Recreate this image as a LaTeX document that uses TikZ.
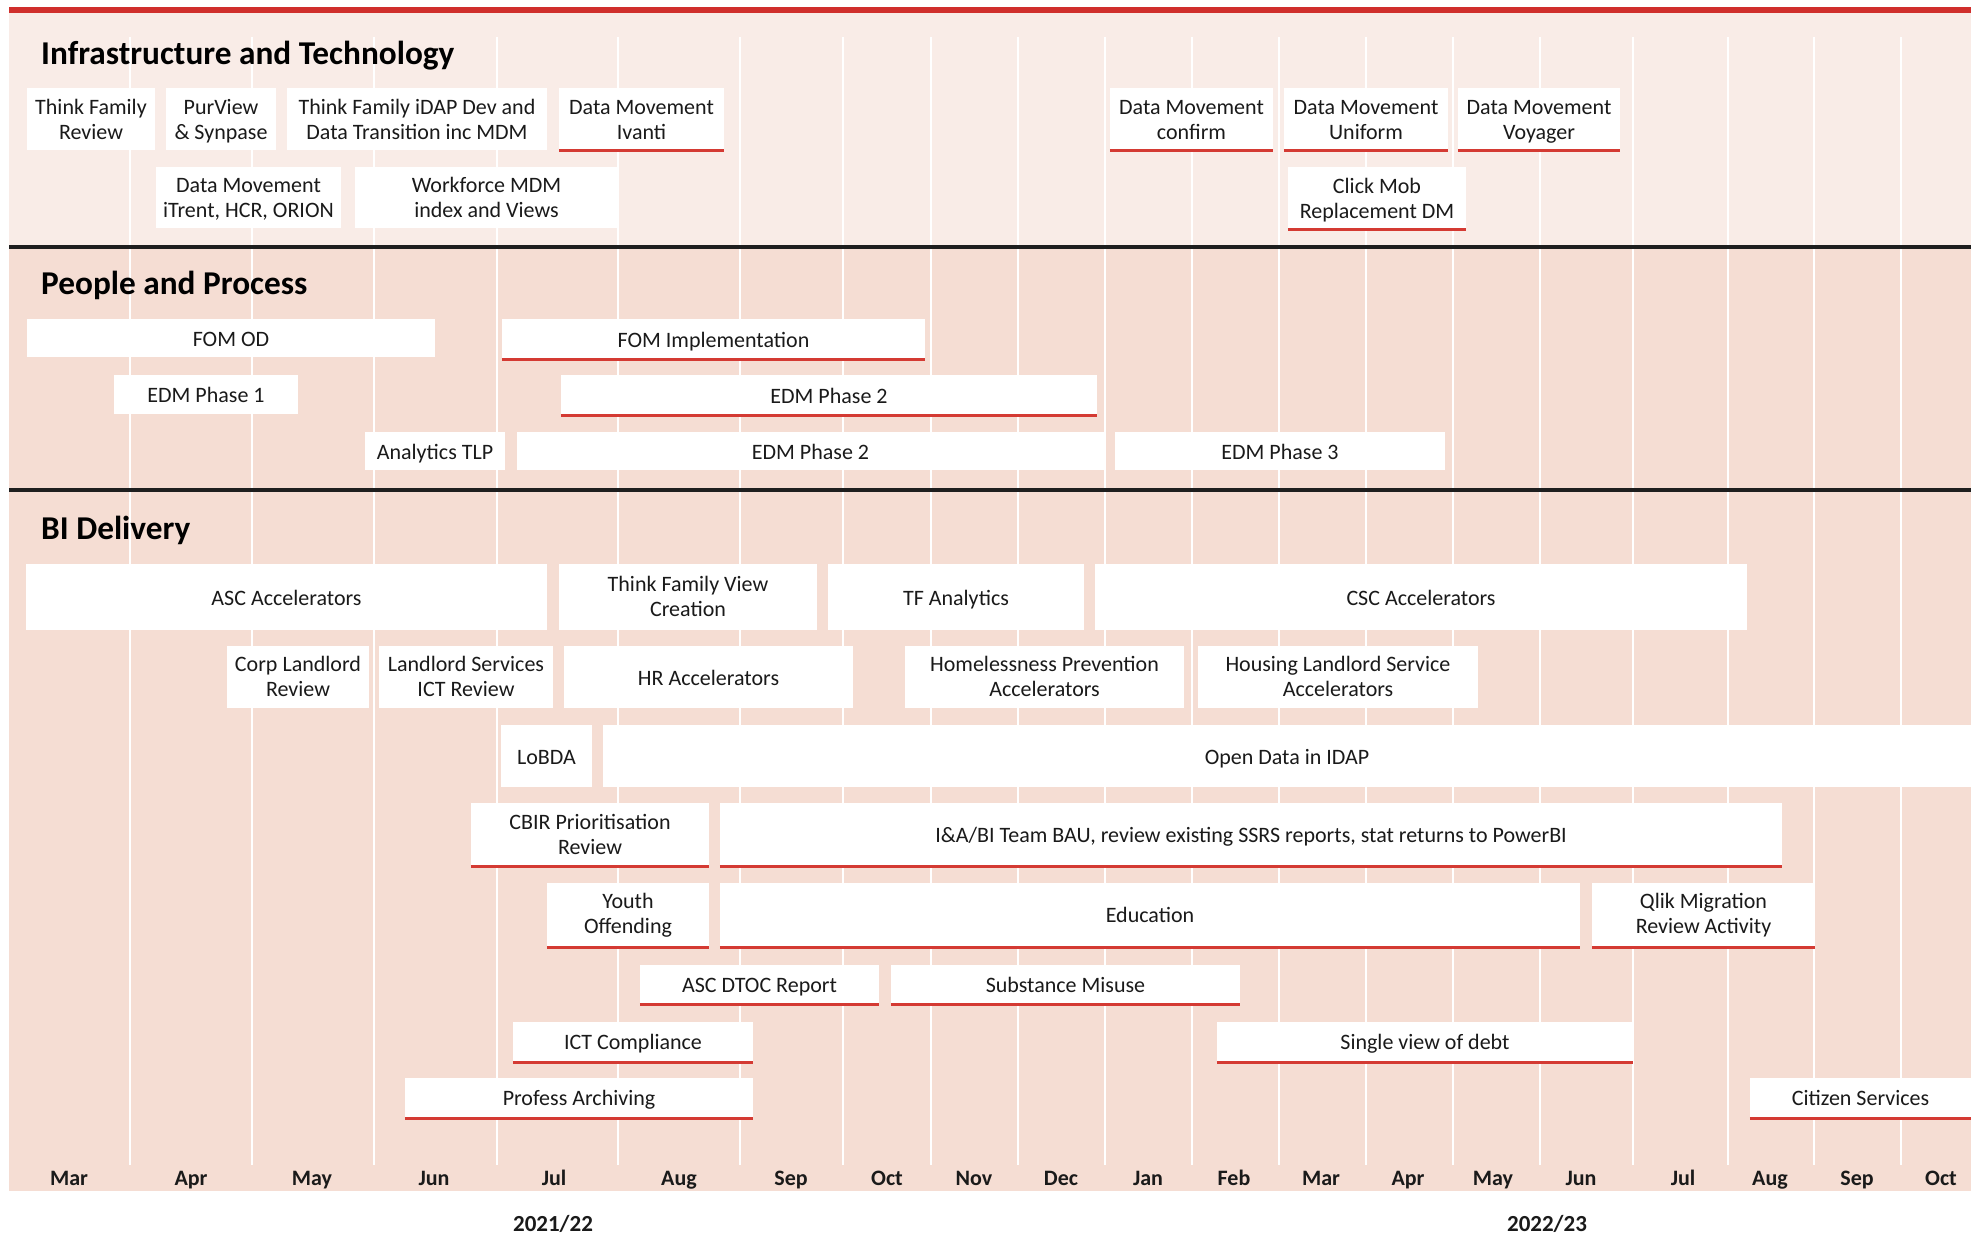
\documentclass[tikz,border=0pt]{standalone}
\usepackage{fontspec}
\setmainfont{Carlito}
\definecolor{bgA}{HTML}{F9ECE7}
\definecolor{bgB}{HTML}{F5DDD3}
\definecolor{topred}{HTML}{D02F2C}
\definecolor{ulred}{HTML}{D43A33}
\definecolor{divider}{HTML}{1E1E1E}
\definecolor{txt}{HTML}{1A1A1A}
% name, x1, y1, x2, y2, baseline offset from centre (downwards), text
\newcommand{\bx}[7]{%
  \node[tbox, minimum width={(#4-#2)*1pt}, minimum height={(#5-#3)*1pt}] (#1) at ({(#2+#4)/2},{(#3+#5)/2}) {};
  \node[tlabel] (#1t) at ({(#2+#4)/2},{(#3+#5)/2+#6}) {\begin{tabular}[t]{@{}c@{}}#7\end{tabular}};}
\newcommand{\rbx}[7]{\bx{#1}{#2}{#3}{#4}{#5}{#6}{#7}\draw[redl] (#1.south west) -- (#1.south east);}
\begin{document}
\begin{tikzpicture}[x=1pt,y=-1pt,
  tbox/.style={fill=white, inner sep=0pt},
  tlabel/.style={anchor=base, inner sep=0pt, text=txt, font=\fontsize{22}{25}\selectfont},
  redl/.style={draw=ulred, line width=3pt},
  hdr/.style={anchor=base west, inner sep=0pt, text=black, font=\fontsize{33.3}{38}\selectfont\bfseries},
  month/.style={anchor=base, inner sep=0pt, text=txt, font=\fontsize{22}{26}\selectfont\bfseries},
  year/.style={anchor=base, inner sep=0pt, text=txt, font=\fontsize{23}{27}\selectfont\bfseries},
  gridl/.style={draw=white, line width=2.5pt},
  divl/.style={draw=divider, line width=3.5pt}]
\useasboundingbox (0,0) rectangle (1971,1237);
\fill[white] (0,0) rectangle (1971,1237);
% backgrounds
\fill[bgA] (9,13) rectangle (1971,247);
\fill[bgB] (9,247) rectangle (1971,1191);
\draw[draw=topred, line width=6pt] (9,10) -- (1971,10);
% grid lines
\foreach \gx in {130,252,374,497,618,740,843,931,1018,1105,1192,1279,1366,1453,1540,1633,1728,1814,1901}
  \draw[gridl] (\gx,37) -- (\gx,1165);
% dividers
\draw[divl] (9,247) -- (1971,247);
\draw[divl] (9,490) -- (1971,490);
% headers
\node[hdr] (h1) at (41,64) {Infrastructure and Technology};
\node[hdr] (h2) at (41,294) {People and Process};
\node[hdr] (h3) at (41,539) {BI Delivery};
% Infrastructure and Technology
\bx{tfr}{27}{88}{155}{150}{-5}{Think Family\\Review}
\bx{pur}{166}{88}{276}{150}{-5}{PurView\\\& Synpase}
\bx{tfidap}{287}{88}{547}{150}{-5}{Think Family iDAP Dev and\\Data Transition inc MDM}
\rbx{dmiv}{559}{88}{724}{150}{-5}{Data Movement\\Ivanti}
\bx{dmit}{156}{167}{341}{228}{-5}{Data Movement\\iTrent, HCR, ORION}
\bx{wmdm}{355}{167}{618}{228}{-5}{Workforce MDM\\index and Views}
\rbx{dmcf}{1110}{88}{1273}{150}{-5}{Data Movement\\confirm}
\rbx{dmun}{1284}{88}{1448}{150}{-5}{Data Movement\\Uniform}
\rbx{dmvo}{1458}{88}{1620}{150}{-5}{Data Movement\\Voyager}
\rbx{cmob}{1288}{167}{1466}{229}{-5}{Click Mob\\Replacement DM}
% People and Process
\bx{fomod}{27}{319}{435}{357}{8}{FOM OD}
\rbx{fomimp}{502}{319}{925}{359}{8}{FOM Implementation}
\bx{edma}{114}{375}{298}{414}{8}{EDM Phase 1}
\rbx{edmb}{561}{375}{1097}{415}{8}{EDM Phase 2}
\bx{atlp}{365}{432}{505}{470}{8}{Analytics TLP}
\bx{edmc}{517}{432}{1104}{470}{8}{EDM Phase 2}
\bx{edmd}{1115}{432}{1445}{470}{8}{EDM Phase 3}
% BI Delivery
\bx{asc}{26}{564}{547}{630}{8}{ASC Accelerators}
\bx{tfvc}{559}{564}{817}{630}{-5.5}{Think Family View\\Creation}
\bx{tfan}{828}{564}{1084}{630}{8}{TF Analytics}
\bx{csc}{1095}{564}{1747}{630}{8}{CSC Accelerators}
\bx{corp}{227}{646}{369}{708}{-5.5}{Corp Landlord\\Review}
\bx{lsict}{379}{646}{553}{708}{-5.5}{Landlord Services\\ICT Review}
\bx{hr}{564}{646}{853}{708}{8}{HR Accelerators}
\bx{hpa}{905}{646}{1184}{708}{-5.5}{Homelessness Prevention\\Accelerators}
\bx{hlsa}{1198}{646}{1478}{708}{-5.5}{Housing Landlord Service\\Accelerators}
\bx{lobda}{501}{725}{592}{787}{8}{LoBDA}
\bx{odi}{603}{725}{1971}{787}{8}{Open Data in IDAP}
\rbx{cbir}{471}{803}{709}{866}{-5.5}{CBIR Prioritisation\\Review}
\rbx{bau}{720}{803}{1782}{866}{7.5}{I\&A/BI Team BAU, review existing SSRS reports, stat returns to PowerBI}
\rbx{yo}{547}{883}{709}{947}{-6.5}{Youth\\Offending}
\rbx{edu}{720}{883}{1580}{947}{7.5}{Education}
\rbx{qlik}{1592}{883}{1815}{947}{-6.5}{Qlik Migration\\Review Activity}
\rbx{dtoc}{640}{965}{879}{1004}{7.5}{ASC DTOC Report}
\rbx{sub}{891}{965}{1240}{1004}{7.5}{Substance Misuse}
\rbx{ict}{513}{1022}{753}{1062}{7.5}{ICT Compliance}
\rbx{svd}{1217}{1022}{1633}{1062}{7.5}{Single view of debt}
\rbx{pa}{405}{1078}{753}{1118}{7.5}{Profess Archiving}
\rbx{cit}{1750}{1078}{1971}{1118}{7.5}{Citizen Services}
% months
\foreach \mx/\mn [count=\i] in {69/Mar,191/Apr,312/May,434/Jun,554/Jul,679/Aug,791/Sep,887/Oct,974/Nov,1061/Dec,1148/Jan,1234/Feb,1321/Mar,1408/Apr,1493/May,1581/Jun,1683/Jul,1770/Aug,1857/Sep,1941/Oct}
  \node[month] (m\i) at (\mx,1185) {\mn};
% years
\node[year] (ya) at (553,1231) {2021/22};
\node[year] (yb) at (1547,1231) {2022/23};
\end{tikzpicture}
\end{document}
